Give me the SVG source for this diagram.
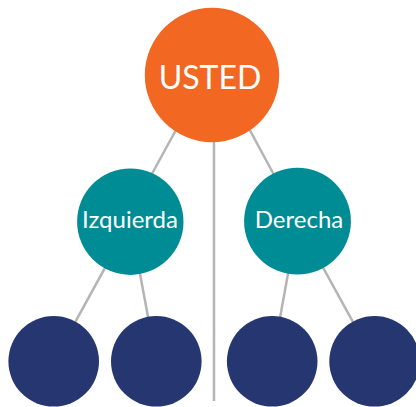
<svg xmlns="http://www.w3.org/2000/svg" width="416" height="407" viewBox="0 0 416 407">
<style>
.c{stroke:#b3b4b6;stroke-width:2.5;fill:none}
.t{font-family:Lato,"Open Sans","Liberation Sans",sans-serif;fill:#ffffff;text-anchor:middle}
.teal{fill:#008c95}
.navy{fill:#263670}
</style>
<rect width="416" height="407" fill="#ffffff"/>
<g id="connectors">
<line class="c" x1="214" y1="120" x2="214" y2="401"/>
<line class="c" x1="194" y1="97" x2="136" y2="203"/>
<line class="c" x1="232" y1="97" x2="287" y2="199"/>
<line class="c" x1="130.3" y1="221.7" x2="53.7" y2="361.3"/>
<line class="c" x1="130.3" y1="221.7" x2="156.3" y2="361.3"/>
<line class="c" x1="297.5" y1="221" x2="272.2" y2="361.3"/>
<line class="c" x1="297.5" y1="221" x2="374.6" y2="361.3"/>
</g>
<g id="usted">
<circle cx="212" cy="75" r="67.2" fill="#f26722"/>
<text class="t" x="210" y="89.3" font-size="32">USTED</text>
</g>
<g id="izquierda">
<circle class="teal" cx="130.3" cy="221.7" r="53.2"/>
<text class="t" x="130" y="228.3" font-size="24">Izquierda</text>
</g>
<g id="derecha">
<circle class="teal" cx="297.5" cy="221.2" r="53.4"/>
<text class="t" x="299" y="228.3" font-size="24">Derecha</text>
</g>
<g id="n1"><circle class="navy" cx="53.7" cy="361.3" r="45.3"/></g>
<g id="n2"><circle class="navy" cx="156.3" cy="361.3" r="45.3"/></g>
<g id="n3"><circle class="navy" cx="272.2" cy="361.3" r="45.3"/></g>
<g id="n4"><circle class="navy" cx="374.6" cy="361.3" r="45.3"/></g>
</svg>
